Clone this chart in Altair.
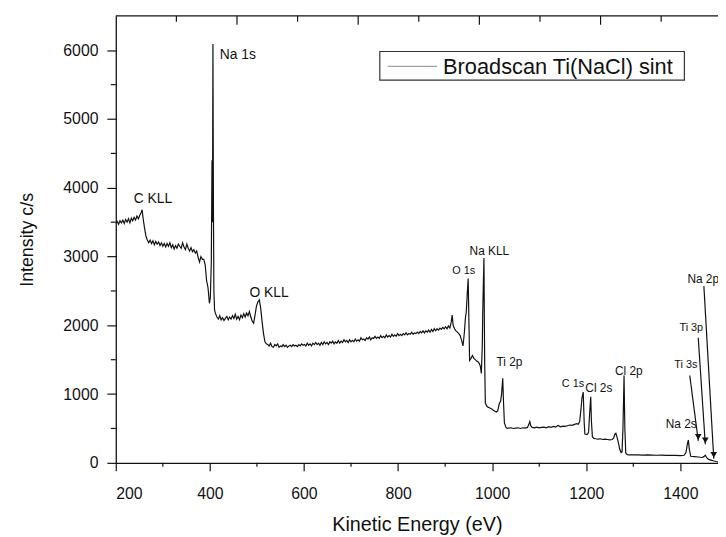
import altair as alt
import pandas as pd

# ---------------- data ----------------
energy = [200, 203, 206, 209, 212, 215, 218, 221, 224, 227, 230, 233, 236, 239, 242, 245, 248, 251, 254, 256,
          258, 261, 264, 267, 270, 273, 276, 279, 282, 285, 288, 291, 294, 297, 300, 303, 306, 309, 312, 315,
          318, 321, 324, 327, 330, 333, 336, 339, 342, 345, 348, 351, 354, 357, 360, 363, 366, 369, 372, 375,
          378, 381, 384, 387, 390, 393, 396, 399, 401, 403, 404.5, 405.5, 406.5, 407.5, 408.5, 410, 412,
          415, 418, 421, 424, 427, 430, 433, 436, 439, 442, 445, 448, 451, 454, 457, 460, 463, 466, 469, 472,
          475, 478, 481, 484, 487, 490, 493, 496, 499, 502, 505, 508, 511, 514, 517, 520, 523,
          526, 529, 532, 535, 538, 541, 544, 547, 550, 553, 556, 559, 562, 565, 568, 571, 574, 577, 580, 583,
          586, 589, 592, 595, 598, 601, 604, 607, 610, 613, 616, 619, 622, 625, 628, 631, 634, 637, 640, 643,
          646, 649, 652, 655, 658, 661, 664, 667, 670, 673, 676, 679, 682, 685, 688, 691, 694, 697, 700, 703,
          706, 709, 712, 715, 718, 721, 724, 727, 730, 733, 736, 739, 742, 745, 748, 751, 754, 757, 760, 763,
          766, 769, 772, 775, 778, 781, 784, 787, 790, 793, 796, 799, 802, 805, 808, 811, 814, 817, 820, 823,
          826, 829, 832, 835, 838, 841, 844, 847, 850, 853, 856, 859, 862, 865, 868, 871, 874, 877, 880, 883,
          886, 889, 892, 895, 898, 901, 904, 907, 910, 913, 915, 917, 920, 923, 926, 929, 932, 935, 938, 941,
          943, 945, 947, 949, 951, 952, 955, 958, 961, 964, 967, 970, 973, 975, 977, 979, 980, 982.5, 984, 985.5,
          988, 991, 994, 997, 1000, 1003, 1006, 1009, 1012, 1015, 1018, 1020, 1022.5, 1024, 1026, 1029, 1032,
          1035, 1040, 1045, 1050, 1055, 1060, 1065, 1070, 1075, 1078, 1080, 1082, 1085, 1090, 1095, 1100, 1105,
          1110, 1115, 1120, 1125, 1130, 1135, 1140, 1145, 1150, 1155, 1160, 1165, 1170, 1175, 1180, 1183, 1186,
          1189, 1191, 1193.5, 1195.5, 1197, 1200, 1203, 1205, 1207, 1209.5, 1211, 1213, 1216, 1220, 1225, 1230,
          1235, 1240, 1245, 1250, 1255, 1258, 1261, 1263, 1265, 1268, 1271, 1274, 1276, 1278, 1280.3, 1282, 1284,
          1287, 1292, 1300, 1310, 1320, 1330, 1340, 1350, 1360, 1370, 1380, 1390, 1400, 1408, 1412, 1415, 1417,
          1419, 1422, 1430, 1438, 1446, 1450, 1453, 1456, 1460, 1465, 1470, 1475, 1480]

counts = [3480, 3510, 3470, 3520, 3490, 3530, 3480, 3540, 3500, 3550, 3490, 3560, 3520, 3570, 3530, 3590, 3550, 3600, 3640, 3680,
          3560, 3420, 3300, 3240, 3200, 3240, 3190, 3230, 3170, 3220, 3180, 3210, 3160, 3200, 3150, 3190, 3140, 3190, 3150, 3200,
          3130, 3170, 3110, 3160, 3120, 3180, 3150, 3120, 3200, 3140, 3100, 3180, 3120, 3080, 3130, 3070, 3100, 3050, 3080, 2990,
          2920, 3000, 2960, 2960, 2880, 2650, 2550, 2320, 2400, 2900, 4400, 3500, 6090, 3800, 2500, 2220, 2170,
          2120, 2090, 2140, 2080, 2110, 2070, 2100, 2130, 2080, 2120, 2090, 2140, 2100, 2160, 2090, 2130, 2080, 2150, 2110, 2170,
          2120, 2180, 2140, 2200, 2120, 2060, 2030, 2150, 2280, 2340, 2370, 2250, 2050, 1880, 1760, 1730, 1720,
          1700, 1740, 1690, 1680, 1720, 1700, 1730, 1680, 1700, 1690, 1720, 1690, 1710, 1680, 1700, 1710, 1690, 1720, 1700, 1710,
          1690, 1720, 1700, 1730, 1710, 1720, 1700, 1740, 1710, 1730, 1700, 1740, 1720, 1750, 1720, 1740, 1710, 1750, 1720, 1760,
          1730, 1750, 1720, 1760, 1740, 1770, 1730, 1760, 1740, 1780, 1740, 1770, 1750, 1790, 1760, 1780, 1750, 1790, 1760, 1780,
          1760, 1800, 1770, 1790, 1770, 1820, 1790, 1800, 1780, 1820, 1800, 1830, 1790, 1820, 1810, 1840, 1810, 1830, 1810, 1850,
          1820, 1840, 1820, 1860, 1830, 1850, 1830, 1870, 1840, 1860, 1840, 1880, 1850, 1870, 1850, 1880, 1860, 1890, 1860, 1880,
          1870, 1900, 1870, 1890, 1880, 1900, 1880, 1910, 1890, 1920, 1890, 1920, 1900, 1930, 1900, 1940, 1910, 1950, 1920, 1950,
          1930, 1960, 1940, 1970, 1950, 1980, 1950, 1990, 1960, 2050, 2150, 2000, 1950, 1920, 1900, 1880, 1850, 1780, 1700, 1900,
          2100, 2200, 2450, 2680, 1900, 1490, 1520, 1560, 1520, 1500, 1480, 1470, 1440, 1400, 1300, 1700, 2200, 2980, 1500, 870,
          830, 810, 800, 790, 780, 760, 750, 740, 760, 860, 900, 1000, 1230, 900, 580, 520, 500,
          505, 510, 500, 505, 510, 500, 510, 505, 515, 560, 600, 540, 515, 510, 520, 510, 515,
          520, 510, 525, 515, 530, 520, 545, 525, 535, 530, 540, 550, 545, 560, 570, 560, 600,
          800, 950, 1030, 600, 420, 410, 420, 450, 700, 960, 600, 380, 355, 350, 345, 350,
          340, 345, 340, 335, 340, 360, 420, 430, 380, 300, 200, 150, 160, 500, 1270, 500, 140,
          120, 115, 118, 115, 112, 115, 112, 110, 112, 108, 110, 108, 105, 110, 150, 280, 330,
          200, 95, 90, 85, 78, 90, 110, 75, 50, 40, 30, 20, 15]

series_name = "Broadscan Ti(NaCl) sint"

x_major = [200, 400, 600, 800, 1000, 1200, 1400]
x_minor = [300, 500, 700, 900, 1100, 1300]
y_major = [0, 1000, 2000, 3000, 4000, 5000, 6000]
y_minor = [500, 1500, 2500, 3500, 4500, 5500]
top_long = [457.6, 715.2, 972.8, 1230.4]
top_short = [328.8, 586.4, 844.0, 1101.6, 1359.2]

peak_names = ["C KLL", "Na 1s", "O KLL", "O 1s", "Na KLL", "Ti 2p", "C 1s", "Cl 2s", "Cl 2p",
              "Na 2s", "Ti 3s", "Ti 3p", "Na 2p"]
peak_lx = [238, 421, 484, 915, 952, 1009, 1148, 1198, 1261, 1369, 1387, 1398, 1415]
peak_ly = [3830, 5930, 2475, 2790, 3075, 1470, 1140, 1095, 1330, 565, 1420, 1965, 2680]
peak_fs = [14, 14, 14, 11, 12, 12, 11, 12, 12, 12, 11, 11, 12]

arrow_x = [1450, 1438, 1420]
arrow_y = [2570, 1820, 1270]
arrow_x2 = [1471, 1453, 1438]
arrow_y2 = [60, 270, 320]

# ---------------- chart ----------------
W, H = 609, 452
FONT = "Liberation Sans"
INK = "#111"

xscale = alt.Scale(domain=[200, 1480], nice=False, zero=False)
yscale = alt.Scale(domain=[0, 6500], nice=False, zero=False)
common = dict(labelFont=FONT, titleFont=FONT, labelColor=INK, titleColor=INK, domainColor=INK,
              tickColor=INK, domainWidth=1.3, tickWidth=1.2, titleFontWeight="normal", grid=False,
              labelFontSize=16, format="d")
XAX = alt.Axis(title="Kinetic Energy (eV)", values=x_major, tickSize=8, labelPadding=15,
               titlePadding=13, titleFontSize=20, **common)
YAX = alt.Axis(title="Intensity c/s", values=y_major, tickSize=9, labelPadding=9,
               titlePadding=27, titleFontSize=18, **common)

df = pd.DataFrame({"energy": energy, "counts": counts})
spectrum = alt.Chart(df).mark_line(strokeWidth=1.2, clip=True, color=INK).encode(
    x=alt.X("energy:Q", scale=xscale, axis=XAX),
    y=alt.Y("counts:Q", scale=yscale, axis=YAX),
)

xminor = alt.Chart(pd.DataFrame({"v": x_minor})).mark_rule(color=INK, strokeWidth=1.2).encode(
    x=alt.X("v:Q", scale=xscale, axis=XAX), y=alt.value(H), y2=alt.value(H + 4))

yminor = alt.Chart(pd.DataFrame({"v": y_minor})).mark_rule(color=INK, strokeWidth=1.2).encode(
    y=alt.Y("v:Q", scale=yscale, axis=YAX), x=alt.value(-5), x2=alt.value(0))

toplong = alt.Chart(pd.DataFrame({"v": top_long})).mark_rule(color=INK, strokeWidth=1.2).encode(
    x=alt.X("v:Q", scale=xscale, axis=XAX), y=alt.value(0), y2=alt.value(9))
topshort = alt.Chart(pd.DataFrame({"v": top_short})).mark_rule(color=INK, strokeWidth=1.2).encode(
    x=alt.X("v:Q", scale=xscale, axis=XAX), y=alt.value(0), y2=alt.value(6))

topline = alt.Chart(pd.DataFrame({"v": [0]})).mark_rule(color=INK, strokeWidth=1.3).encode(
    x=alt.value(0), x2=alt.value(W + 10), y=alt.value(0))

lab_df = pd.DataFrame({"name": peak_names, "lx": peak_lx, "ly": peak_ly, "fs": peak_fs})
labels = alt.Chart(lab_df).mark_text(align="left", baseline="middle", font=FONT, color=INK).encode(
    x=alt.X("lx:Q", scale=xscale, axis=XAX),
    y=alt.Y("ly:Q", scale=yscale, axis=YAX),
    text="name:N",
    size=alt.Size("fs:Q", scale=None, legend=None))

arr_df = pd.DataFrame({"x": arrow_x, "y": arrow_y, "x2": arrow_x2, "y2": arrow_y2})
arrows = alt.Chart(arr_df).mark_rule(color=INK, strokeWidth=1.2).encode(
    x=alt.X("x:Q", scale=xscale, axis=XAX), y=alt.Y("y:Q", scale=yscale, axis=YAX),
    x2="x2:Q", y2="y2:Q")
heads = alt.Chart(arr_df).mark_point(shape="triangle-down", filled=True, color=INK, size=45,
                                     opacity=1, yOffset=-4).encode(
    x=alt.X("x2:Q", scale=xscale, axis=XAX), y=alt.Y("y2:Q", scale=yscale, axis=YAX))

# legend box drawn by hand (box, sample line, label)
leg_df = pd.DataFrame({"name": [series_name]})
leg_box = alt.Chart(leg_df).mark_rect(fill="white", stroke="#333", strokeWidth=1.2).encode(
    x=alt.value(267), x2=alt.value(575), y=alt.value(36), y2=alt.value(65))
leg_line = alt.Chart(leg_df).mark_rule(color="#888", strokeWidth=1).encode(
    x=alt.value(275), x2=alt.value(325), y=alt.value(51))
leg_text = alt.Chart(leg_df).mark_text(align="left", baseline="middle", font=FONT, fontSize=22,
                                       color=INK).encode(
    x=alt.value(331), y=alt.value(52), text="name:N")

chart = alt.layer(spectrum, xminor, yminor, toplong, topshort, topline, labels, arrows, heads,
                  leg_box, leg_line, leg_text).properties(
    width=W, height=H,
    background="white",
    autosize=alt.AutoSizeParams(type="none"),
    padding={"left": 109, "top": 5, "right": 0, "bottom": 70},
).configure_view(strokeWidth=0)

chart.save("out.html", embed_options={"renderer": "svg", "actions": False})
